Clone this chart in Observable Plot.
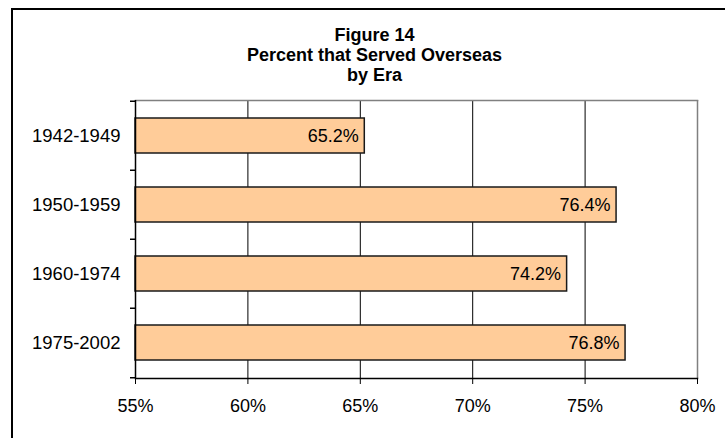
<!DOCTYPE html>
<html>
<head>
<meta charset="utf-8">
<script src="https://cdn.jsdelivr.net/npm/d3@7"></script>
<script src="https://cdn.jsdelivr.net/npm/@observablehq/plot@0.6"></script>
<style>
  html, body { margin: 0; padding: 0; background: #fff; }
  #wrap { position: relative; width: 725px; height: 438px; overflow: hidden; }
  #border { position: absolute; left: 11px; top: 8px; width: 800px; height: 500px;
            border-top: 2px solid #000; border-left: 2px solid #000; box-sizing: border-box; pointer-events: none; }
  svg { font-family: "Liberation Sans", Arial, sans-serif; }
</style>
</head>
<body>
<div id="wrap"><div id="border"></div></div>
<script>
const titleLines = ["Figure 14", "Percent that Served Overseas", "by Era"];
const eras = ["1942-1949", "1950-1959", "1960-1974", "1975-2002"];
const values = [65.2, 76.4, 74.2, 76.8];
const xTicks = [55, 60, 65, 70, 75, 80];
const gridTicks = [60, 65, 70, 75];

const data = eras.map((era, i) => ({era, value: values[i]}));
const step = 278 / 4;

const chart = Plot.plot({
  width: 725,
  height: 438,
  marginLeft: 135,
  marginRight: 28,
  marginTop: 100,
  marginBottom: 60,
  style: {fontFamily: "'Liberation Sans', Arial, sans-serif", background: "transparent", color: "#000"},
  x: {domain: [55, 80], ticks: xTicks, tickFormat: d => d + "%"},
  y: {domain: eras, paddingInner: 0.5, paddingOuter: 0.25, align: 0.5},
  marks: [
    Plot.ruleX(gridTicks, {stroke: "#000", strokeWidth: 1}),
    Plot.ruleX([80], {stroke: "#808080", strokeWidth: 1.5}),
    Plot.frame({anchor: "top", stroke: "#808080", strokeWidth: 1.5}),
    Plot.barX(data, {x1: 55, x2: "value", y: "era", fill: "#FFCC99", stroke: "#1a1a1a", strokeWidth: 1.5}),
    Plot.ruleX([55], {stroke: "#000", strokeWidth: 1.5}),
    Plot.frame({anchor: "bottom", stroke: "#000", strokeWidth: 1.5}),
    Plot.ruleY(eras, {y: d => d, x1: 55, x2: 55, insetLeft: -5, dy: -step / 2, stroke: "#000", strokeWidth: 1.5}),
    Plot.ruleY([eras[eras.length - 1]], {y: d => d, x1: 55, x2: 55, insetLeft: -5, dy: step / 2, stroke: "#000", strokeWidth: 1.5}),
    Plot.axisX({ticks: xTicks, tickFormat: d => d + "%", tickSize: 6, tickPadding: 15, fontSize: 18, label: null, stroke: "#000"}),
    Plot.axisY({tickSize: 0, tickPadding: 15, fontSize: 18.5, label: null}),
    Plot.text(data, {x: "value", y: "era", text: d => d.value.toFixed(1) + "%", textAnchor: "end", dx: -6, fontSize: 18, fill: "#000"}),
    ...titleLines.map((t, i) => Plot.text([t], {text: d => d, frameAnchor: "top-left", dx: 239, dy: -65 + i * 20, textAnchor: "middle", lineAnchor: "middle", fontSize: 18, fontWeight: "bold", fill: "#000"}))
  ]
});
document.getElementById("wrap").prepend(chart);
</script>
</body>
</html>
